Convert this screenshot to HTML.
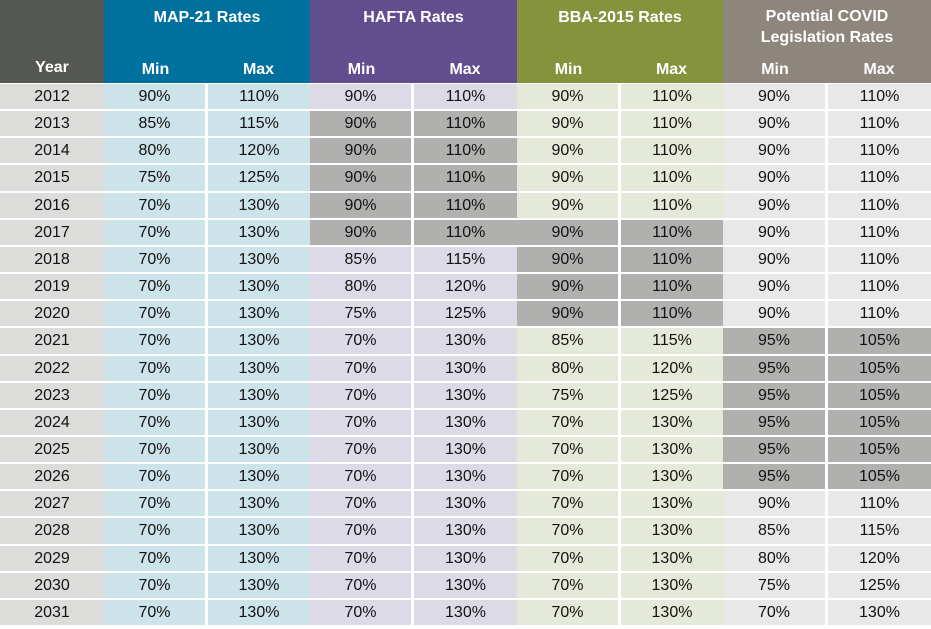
<!DOCTYPE html>
<html><head><meta charset="utf-8"><style>
body{margin:0;width:931px;height:629px;background:#fff;overflow:hidden;font-family:"Liberation Sans Narrow","Liberation Sans",sans-serif;}
#t{position:relative;width:931px;height:629px;}
.c{position:absolute;display:flex;align-items:center;justify-content:center;box-sizing:border-box;color:#111;font-size:16px;}
.h{color:#fff;font-weight:bold;font-size:16px;text-align:center;line-height:21px;}
</style></head><body>
<div id="t"></div>
<script>
const years=[2012,2013,2014,2015,2016,2017,2018,2019,2020,2021,2022,2023,2024,2025,2026,2027,2028,2029,2030,2031];
const mapMin=[90,85,80,75,70,70,70,70,70,70,70,70,70,70,70,70,70,70,70,70];
const mapMax=[110,115,120,125,130,130,130,130,130,130,130,130,130,130,130,130,130,130,130,130];
const haftaMin=[90,90,90,90,90,90,85,80,75,70,70,70,70,70,70,70,70,70,70,70];
const haftaMax=[110,110,110,110,110,110,115,120,125,130,130,130,130,130,130,130,130,130,130,130];
const bbaMin=[90,90,90,90,90,90,90,90,90,85,80,75,70,70,70,70,70,70,70,70];
const bbaMax=[110,110,110,110,110,110,110,110,110,115,120,125,130,130,130,130,130,130,130,130];
const covidMin=[90,90,90,90,90,90,90,90,90,95,95,95,95,95,95,90,85,80,75,70];
const covidMax=[110,110,110,110,110,110,110,110,110,105,105,105,105,105,105,110,115,120,125,130];
const groups=[
 {name:"MAP-21 Rates",key:"map",head:"#00709f",body:"#cde3ea",min:mapMin,max:mapMax,hl:[]},
 {name:"HAFTA Rates",key:"hafta",head:"#604e8e",body:"#dddae7",min:haftaMin,max:haftaMax,hl:[2013,2014,2015,2016,2017]},
 {name:"BBA-2015 Rates",key:"bba",head:"#84933c",body:"#e5e9d9",min:bbaMin,max:bbaMax,hl:[2017,2018,2019,2020]},
 {name:"Potential COVID<br>Legislation Rates",key:"covid",head:"#8e867c",body:"#e8e8e8",min:covidMin,max:covidMax,hl:[2021,2022,2023,2024,2025,2026]}
];
const T=document.getElementById('t');
const colX=[0,104,207,310,413,517,620,723,827,931];
const top0=84,rowH=27.15,headH=83;
function cell(x,y,w,h,bg,html,cls){
 const d=document.createElement('div');
 d.className='c '+(cls||'');
 d.style.cssText=`left:${x}px;top:${y}px;width:${w}px;height:${h}px;background:${bg};`;
 d.innerHTML=html;T.appendChild(d);return d;
}
let d=cell(0,0,104,headH,'#555752','','h');d.style.alignItems='flex-end';d.style.paddingBottom='5px';d.textContent='Year';


groups.forEach((g,gi)=>{
 const x=colX[1+gi*2],w=colX[3+gi*2]-x;
 let h=cell(x,0,w,headH,g.head,'','h');
 
 
 let tt=cell(x,g.key==='covid'?5:6,w,g.key==='covid'?44:22,'transparent',g.name,'h');
 
 
 ['Min','Max'].forEach((m,mi)=>{
  const cx=colX[1+gi*2+mi],cw=colX[2+gi*2+mi]-cx;
  let s=cell(cx,58,cw,22,'transparent',m,'h');
  
  
 });
});
years.forEach((y,i)=>{
 const ty=Math.round(top0+i*rowH),h=Math.round(top0+(i+1)*rowH)-ty-2;
 let yc=cell(0,ty,104,h,'#dcdcda',String(y));
 
 
 groups.forEach((g,gi)=>{
  [g.min,g.max].forEach((arr,mi)=>{
   const cx=colX[1+gi*2+mi],cw=colX[2+gi*2+mi]-cx-2;
   const bg=g.hl.includes(y)?'#b0b0ae':g.body;
   let c=cell(cx+(mi?1:0),ty,cw+(mi?1:0),h,bg,arr[i]+'%');
   
   
  });
 });
});
</script>
</body></html>
